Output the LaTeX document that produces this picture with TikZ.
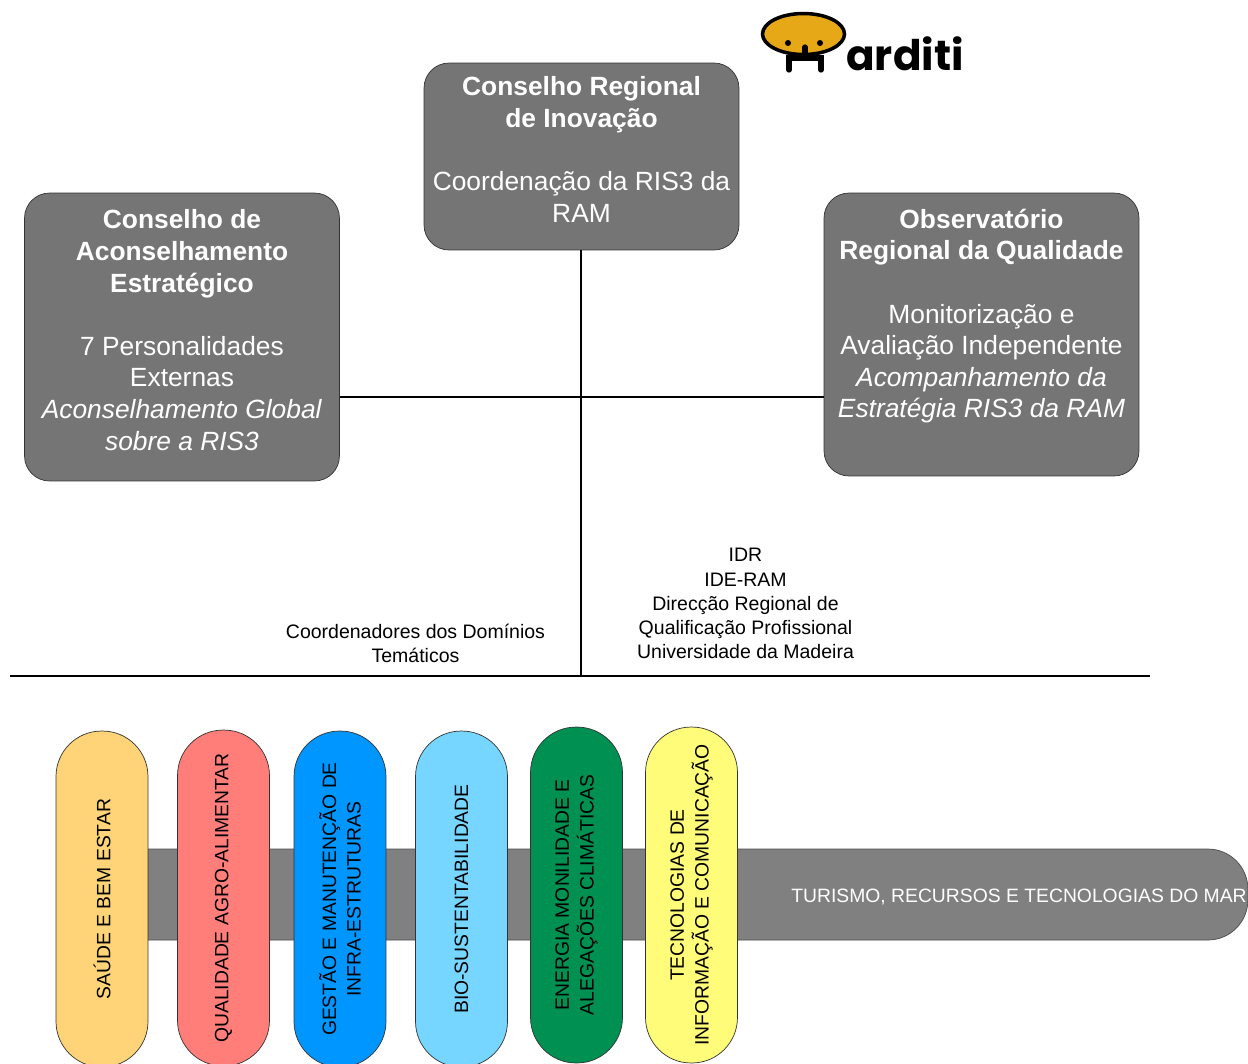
\documentclass[tikz,border=0pt]{standalone}
\usepackage{fontspec}
\setmainfont{Liberation Sans}
\newfontfamily\logofont{Poppins}
\usepackage{tikz}
\usetikzlibrary{calc,positioning}
\definecolor{boxgray}{HTML}{757575}
\definecolor{bargray}{HTML}{808080}
\definecolor{saude}{HTML}{FFD479}
\definecolor{agro}{HTML}{FF7E79}
\definecolor{gestao}{HTML}{0096FF}
\definecolor{biosust}{HTML}{76D6FF}
\definecolor{energia}{HTML}{009051}
\definecolor{tecno}{HTML}{FFFC79}
\definecolor{logogold}{HTML}{E6A817}

\begin{document}
\begin{tikzpicture}[x=0.02cm,y=-0.02cm]
        \tikzstyle{orgbox}=[draw=black!80,fill=boxgray,rounded corners=0.5cm,text=white,align=center,minimum width=6.3cm,font=\fontsize{15}{18}\selectfont,inner sep=0pt]
        \tikzstyle{pill}=[draw=black!80,rotate=90,rounded corners=0.91cm,minimum width=6.72cm,minimum height=1.84cm,align=center,font=\fontsize{11}{14}\selectfont,inner sep=0pt]
        \tikzstyle{note}=[align=center,font=\fontsize{11.1}{13.7}\selectfont,inner sep=0pt]
        \path[use as bounding box,clip] (0,0) rectangle (1248,1063);

        % Boxes
        \node (conselho)[orgbox,minimum height=3.74cm] at (581.5,156.5) {\textbf{Conselho Regional}\\\textbf{de Inovação}\\[18pt]Coordenação da RIS3 da\\RAM\\[-10pt]~};
        \node (aconselhamento)[orgbox,minimum height=5.76cm] at (182,337) {\textbf{Conselho de}\\\textbf{Aconselhamento}\\\textbf{Estratégico}\\[18pt]7 Personalidades\\Externas\\\textit{Aconselhamento Global}\\\textit{sobre a RIS3}\\[-10pt]~};
        \node (observatorio)[orgbox,minimum height=5.66cm] at (981.5,334.5) {\textbf{Observatório}\\\textbf{Regional da Qualidade}\\[18pt]Monitorização e\\Avaliação Independente\\\textit{Acompanhamento da}\\\textit{Estratégia RIS3 da RAM}\\[6pt]~};

        % Lines
        \coordinate (junction) at (581,397);
        \coordinate (base) at (581,676);
        \coordinate (baseleft) at (10,676);
        \coordinate (baseright) at (1150,676);
        \draw[line width=0.7pt] (conselho.south -| base) -- (base);
        \draw[line width=0.7pt] (aconselhamento.east |- junction) -- (observatorio.west |- junction);
        \draw[line width=0.7pt] (baseleft) -- (baseright);

        % Notes over the line
        \node (coordenadores)[note] at (415.5,643.5) {Coordenadores dos Domínios\\Temáticos};
        \node (entidades)[note] at (745.5,603.5) {IDR\\IDE-RAM\\Direcção Regional de\\Qualificação Profissional\\Universidade da Madeira};

        % Bar behind the domains
        \node (mar)[draw=black!70,fill=bargray,rounded corners=0.8cm,minimum width=22.96cm,minimum height=1.82cm] at (674,894.5) {};
        \node (marlabel)[text=white,font=\fontsize{11}{13}\selectfont,inner sep=0pt] at (1019,897) {TURISMO, RECURSOS E TECNOLOGIAS DO MAR};

        % Domains
        \node (sbe)[pill,fill=saude] at (102,899) {SAÚDE E BEM ESTAR};
        \node (qaa)[pill,fill=agro] at (223.5,898) {QUALIDADE AGRO-ALIMENTAR};
        \node (gmi)[pill,fill=gestao] at (340,899) {GESTÃO E MANUTENÇÃO DE\\INFRA-ESTRUTURAS};
        \node (bio)[pill,fill=biosust] at (461.5,899) {BIO-SUSTENTABILIDADE};
        \node (ema)[pill,fill=energia] at (576.5,895) {ENERGIA MONILIDADE E\\ALEGAÇÕES CLIMÁTICAS};
        \node (tic)[pill,fill=tecno] at (691.5,895) {TECNOLOGIAS DE\\INFORMAÇÃO E COMUNICAÇÃO};

        % Logo
        \draw[line width=3pt,line cap=round] (789,70) -- (789,58) -- (821,58) -- (821,70);
        \draw[line width=2pt,fill=logogold] (803.5,34) ellipse (41 and 20.5);
        \fill (788,43) circle (3) (820,43) circle (3);
        \draw[line width=3pt,line cap=round] (805,47) -- (805,58);
        \node (arditi)[anchor=base west,inner sep=0pt,font=\logofont\bfseries\fontsize{24}{24}\selectfont] at (846,70) {arditi};
\end{tikzpicture}
\end{document}
